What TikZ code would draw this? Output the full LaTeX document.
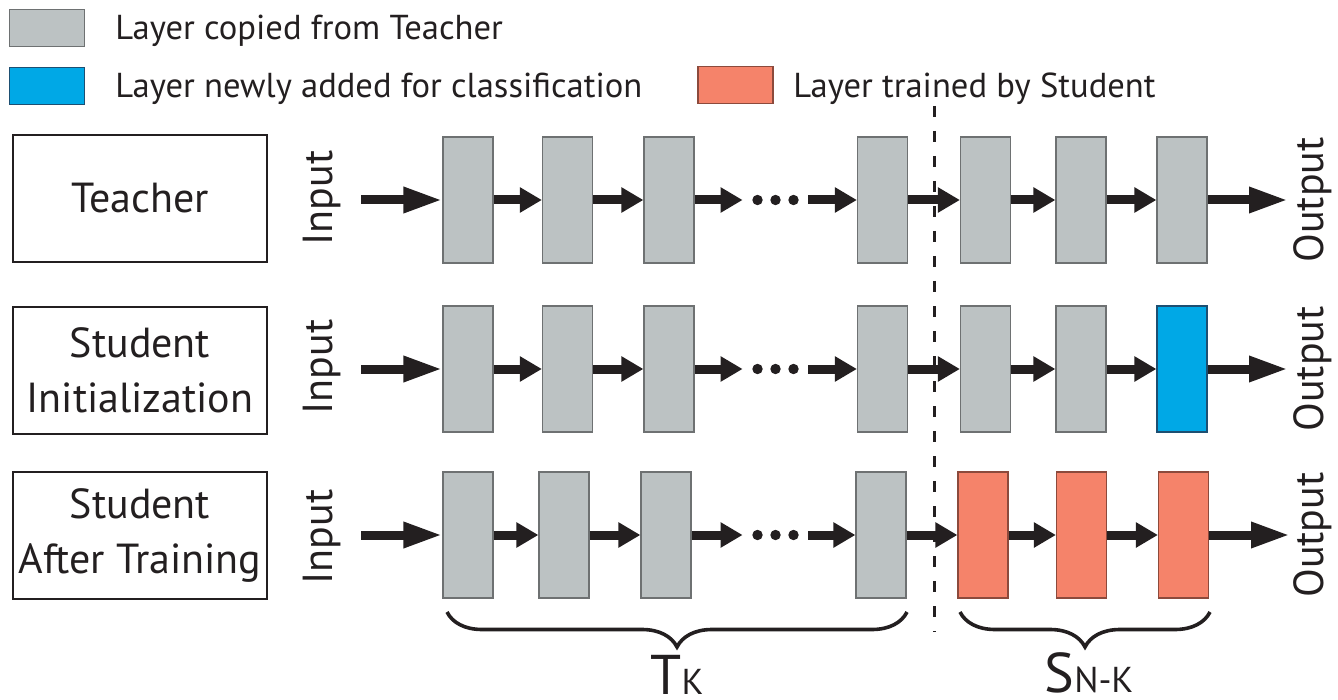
\documentclass[tikz,border=0pt]{standalone}
\usepackage{fontspec}
\setmainfont{PT Sans}
\usetikzlibrary{arrows.meta,decorations.pathreplacing}

\definecolor{ink}{HTML}{231F20}
\definecolor{layergray}{HTML}{BCC2C3}
\definecolor{layeredge}{HTML}{6E7172}
\definecolor{newblue}{HTML}{00A8E6}
\definecolor{newblueedge}{HTML}{1D4F72}
\definecolor{trainorange}{HTML}{F5836A}
\definecolor{trainorangeedge}{HTML}{8C4A3C}

\begin{document}
\begin{tikzpicture}[x=0.5pt,y=-0.5pt,
  layer/.style={draw=layeredge, fill=layergray, line width=0.6pt,
    minimum width=25pt, minimum height=63pt, inner sep=0pt},
  newlayer/.style={layer, draw=newblueedge, fill=newblue},
  trainlayer/.style={layer, draw=trainorangeedge, fill=trainorange},
  keybox/.style={line width=0.6pt, minimum width=37.5pt, minimum height=18.5pt, inner sep=0pt},
  keytext/.style={anchor=base west, inner sep=0pt, text=ink, font=\fontsize{17.3}{21}\selectfont},
  rolebox/.style={draw=ink, line width=1pt, minimum width=127pt, minimum height=63.5pt,
    align=center, text=ink, inner sep=0pt, font=\fontsize{21}{27.5}\selectfont},
  sidelabel/.style={rotate=90, inner sep=0pt, text=ink, font=\fontsize{21}{25}\selectfont},
  dotsbox/.style={minimum width=32.5pt, minimum height=5pt, inner sep=0pt},
  flow/.style={draw=ink, line width=4.5pt, -{Triangle[length=11pt,width=12pt]}},
  longflow/.style={flow, -{Triangle[length=19.5pt,width=12pt]}},
  cutline/.style={draw=ink, line width=1.5pt, dash pattern=on 5.5pt off 7pt},
  bracestyle/.style={draw=ink, line width=1.8pt, decorate,
    decoration={brace, mirror, amplitude=17.5pt}},
  bracelabel/.style={anchor=base, inner sep=0pt, text depth=0pt, text=ink,
    font=\fontsize{28}{30}\selectfont},
  subpart/.style={},
]
\useasboundingbox (0,0) rectangle (1338,700);

% ---------- legend ----------
\node[keybox, draw=layeredge, fill=layergray] (kgray) at (47,28) {};
\node[keytext] (kgraytxt) at (115,40) {Layer copied from Teacher};
\node[keybox, draw=newblueedge, fill=newblue] (kblue) at (47,86) {};
\node[keytext] (kbluetxt) at (115,98) {Layer newly added for classification};
\node[keybox, draw=trainorangeedge, fill=trainorange] (korange) at (735.5,85) {};
\node[keytext] (korangetxt) at (793,98) {Layer trained by Student};

% ---------- split between copied and trained parts ----------
\coordinate (cutTop) at (934,106);
\coordinate (cutBot) at (934,632);
\draw[cutline] (cutTop) -- (cutBot);

% ---------- row labels ----------
\node[rolebox] (teacher) at (140,198.5) {Teacher};
\node[rolebox] (init) at (140,370.5) {Student\\Initialization};
\node[rolebox] (after) at (140,535) {Student\\After Training};

% ---------- Teacher network ----------
\node[sidelabel] (tin) at (322,198) {Input};
\node[layer] (t1) at (468,200) {};
\node[layer] (t2) at (567.5,200) {};
\node[layer] (t3) at (669,200) {};
\node[dotsbox] (tdots) at (775.5,200) {};
\node[layer] (t4) at (882.5,200) {};
\node[layer] (t5) at (985.5,200) {};
\node[layer] (t6) at (1081,200) {};
\node[layer] (t7) at (1182,200) {};
\node[sidelabel] (tout) at (1313,200) {Output};
\coordinate (tinS) at (361,200);
\coordinate (toutE) at (1288,200);

% ---------- Student at initialization ----------
\node[sidelabel] (iin) at (322,367) {Input};
\node[layer] (i1) at (468,369) {};
\node[layer] (i2) at (567.5,369) {};
\node[layer] (i3) at (669,369) {};
\node[dotsbox] (idots) at (775.5,369) {};
\node[layer] (i4) at (882.5,369) {};
\node[layer] (i5) at (985.5,369) {};
\node[layer] (i6) at (1081,369) {};
\node[newlayer] (i7) at (1182,369) {};
\node[sidelabel] (iout) at (1313,369) {Output};
\coordinate (iinS) at (361,369);
\coordinate (ioutE) at (1288,369);

% ---------- Student after training ----------
\node[sidelabel] (ain) at (322,537) {Input};
\node[layer] (a1) at (468,535) {};
\node[layer] (a2) at (564,535) {};
\node[layer] (a3) at (666,535) {};
\node[dotsbox] (adots) at (775.5,535) {};
\node[layer] (a4) at (881,535) {};
\node[trainlayer] (a5) at (983,535) {};
\node[trainlayer] (a6) at (1081.5,535) {};
\node[trainlayer] (a7) at (1183.5,535) {};
\node[sidelabel] (aout) at (1313,535) {Output};
\coordinate (ainS) at (361,535);
\coordinate (aoutE) at (1290,535);

% ---------- ellipsis dots ----------
\foreach \d in {tdots,idots,adots}{
  \fill[ink] (\d.center) circle (2.6pt)
             ([xshift=-9pt]\d.center) circle (2.6pt)
             ([xshift=9pt]\d.center) circle (2.6pt);
}

% ---------- data flow ----------
\foreach \r in {t,i,a}{
  \draw[longflow] (\r inS) -- (\r 1.west);
  \draw[flow] (\r 1.east) -- (\r 2.west);
  \draw[flow] (\r 2.east) -- (\r 3.west);
  \draw[flow] (\r 3.east) -- (\r dots.west);
  \draw[flow] (\r dots.east) -- (\r 4.west);
  \draw[flow] (\r 4.east) -- (\r 5.west);
  \draw[flow] (\r 5.east) -- (\r 6.west);
  \draw[flow] (\r 6.east) -- (\r 7.west);
  \draw[longflow] (\r 7.east) -- (\r outE);
}

% ---------- braces ----------
\draw[bracestyle] (447,612) -- (907,612);
\draw[bracestyle] (960,612) -- (1210,612);
\node[bracelabel] (tk) at (677,694) {T{\fontsize{18}{20}\selectfont K}};
\node[bracelabel] (snk) at (1089,692) {S{\fontsize{18}{20}\selectfont N-K}};
\end{tikzpicture}
\end{document}
